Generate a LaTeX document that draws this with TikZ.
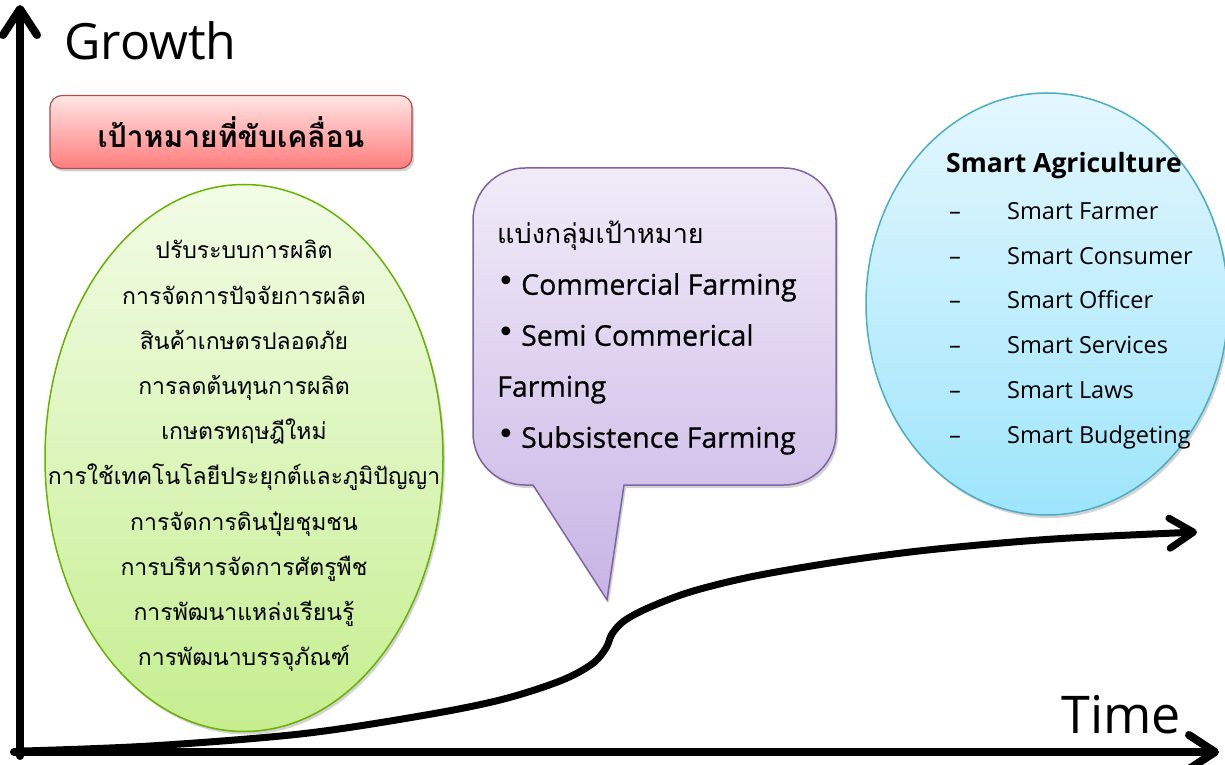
\documentclass[tikz,border=0pt]{standalone}
\usepackage{fontspec}
\setmainfont{Open Sans}
\newfontfamily\thaifont[Script=Thai]{Loma}
\newfontfamily\medfont[FakeBold=0.6]{Open Sans}
\newfontfamily\bulletfont{DejaVu Sans}
\usetikzlibrary{shapes.geometric,arrows.meta,shadows}
\tikzset{
  axisline/.style={line width=8pt, line cap=round,
    -{Straight Barb[length=26pt,width=34pt,round]}},
  growline/.style={line width=7pt, line cap=round,
    -{Straight Barb[length=24pt,width=30pt,round]}},
  softshadow/.style={drop shadow={opacity=0.35, shadow xshift=2pt, shadow yshift=-3pt}},
  redbox/.style={rectangle, rounded corners=12pt, draw=red!55!black!70, line width=1.2pt,
    top color=red!10, bottom color=red!35!pink, softshadow,
    minimum width=362pt, minimum height=73pt, inner sep=0pt},
  greenoval/.style={ellipse, draw=green!50!black!60!yellow, line width=1.5pt,
    top color=greentop, bottom color=greenbot, softshadow,
    minimum width=398pt, minimum height=547pt, inner sep=0pt},
  blueoval/.style={ellipse, draw=bluedraw, line width=1.5pt,
    top color=bluetop, bottom color=bluebot, softshadow,
    minimum width=362pt, minimum height=422pt, inner sep=0pt},
  calloutshape/.style={draw=purpledraw, line width=1.5pt,
    top color=purpletop, bottom color=purplebot, softshadow},
}
\definecolor{greentop}{HTML}{F2FCE6}
\definecolor{greenbot}{HTML}{C6EE90}
\definecolor{bluetop}{HTML}{E4F7FE}
\definecolor{bluebot}{HTML}{9EE5FB}
\definecolor{bluedraw}{HTML}{4BACC6}
\definecolor{purpletop}{HTML}{F1EBF8}
\definecolor{purplebot}{HTML}{C8B4E5}
\definecolor{purpledraw}{HTML}{8064A2}
\newcommand{\bigbullet}{\makebox[24pt][l]{\bulletfont\fontsize{30}{30}\selectfont\raisebox{3pt}{•}}}
\newcommand{\dashitem}{\makebox[61pt][l]{\hspace{3pt}–}}
\begin{document}
\begin{tikzpicture}[x=1pt,y=1pt]
\useasboundingbox (0,0) rectangle (1225,764);

% axes
\coordinate (O) at (20,8);
\coordinate (Xs) at (14,12);
\coordinate (Yend) at (20,759);
\coordinate (Xend) at (1219,12);
\draw[axisline] (O) -- (Yend);
\draw[axisline] (Xs) -- (Xend);

\node[anchor=base west, font=\fontsize{50}{50}\selectfont, inner sep=0pt] (growth) at (64,704) {Growth};
\node[anchor=base east, font=\fontsize{52}{52}\selectfont, inner sep=0pt] (time) at (1181,31) {Time};

% growth curve
\draw[growline] plot[smooth, tension=0.55] coordinates {
 (24,13) (150,18) (300,30) (420,48) (500,64) (560,83) (592,100) (606,116)
 (612,130) (624,143) (648,156) (690,172) (750,187) (830,201) (910,212)
 (990,220) (1070,226) (1197,232)};

% red title box
\node[redbox] (title) at (231,632) {\thaifont\bfseries\fontsize{30}{30}\selectfont เป้าหมายที่ขับเคลื่อน};

% green ellipse
\node[greenoval] (green) at (244,306) {};
\node[align=center, font=\thaifont\fontsize{23}{45.2}\selectfont] (greentext) at (244,308) {%
ปรับระบบการผลิต\\
การจัดการปัจจัยการผลิต\\
สินค้าเกษตรปลอดภัย\\
การลดต้นทุนการผลิต\\
เกษตรทฤษฎีใหม่\\
การใช้เทคโนโลยีประยุกต์และภูมิปัญญา\\
การจัดการดินปุ๋ยชุมชน\\
การบริหารจัดการศัตรูพืช\\
การพัฒนาแหล่งเรียนรู้\\
การพัฒนาบรรจุภัณฑ์};

% purple callout
\coordinate (tip) at (607,164);
\draw[calloutshape] (624,279) -- (784,279) arc[start angle=-90, end angle=0, radius=52]
  -- (836,544) arc[start angle=0, end angle=90, radius=52]
  -- (525,596) arc[start angle=90, end angle=180, radius=52]
  -- (473,331) arc[start angle=180, end angle=270, radius=52]
  -- (533,279) -- (tip) -- cycle;
\node[anchor=north west, align=left, inner sep=0pt,
  font=\medfont\fontsize{28.5}{51}\selectfont] (callouttext) at (497,543) {%
{\thaifont\fontsize{27}{27}\selectfont แบ่งกลุ่มเป้าหมาย}\\
\bigbullet Commercial Farming\\
\bigbullet Semi Commerical\\
Farming\\
\bigbullet Subsistence Farming};

% blue ellipse
\node[blueoval] (blue) at (1047,460) {};
\node[anchor=base west, inner sep=0pt, font=\bfseries\fontsize{26.5}{26.5}\selectfont] (smarthead) at (946,591) {Smart Agriculture};
\node[anchor=north west, align=left, inner sep=0pt,
  font=\fontsize{23.5}{44.8}\selectfont] (smartlist) at (946,562) {%
\dashitem Smart Farmer\\
\dashitem Smart Consumer\\
\dashitem Smart Officer\\
\dashitem Smart Services\\
\dashitem Smart Laws\\
\dashitem Smart Budgeting};
\end{tikzpicture}
\end{document}
